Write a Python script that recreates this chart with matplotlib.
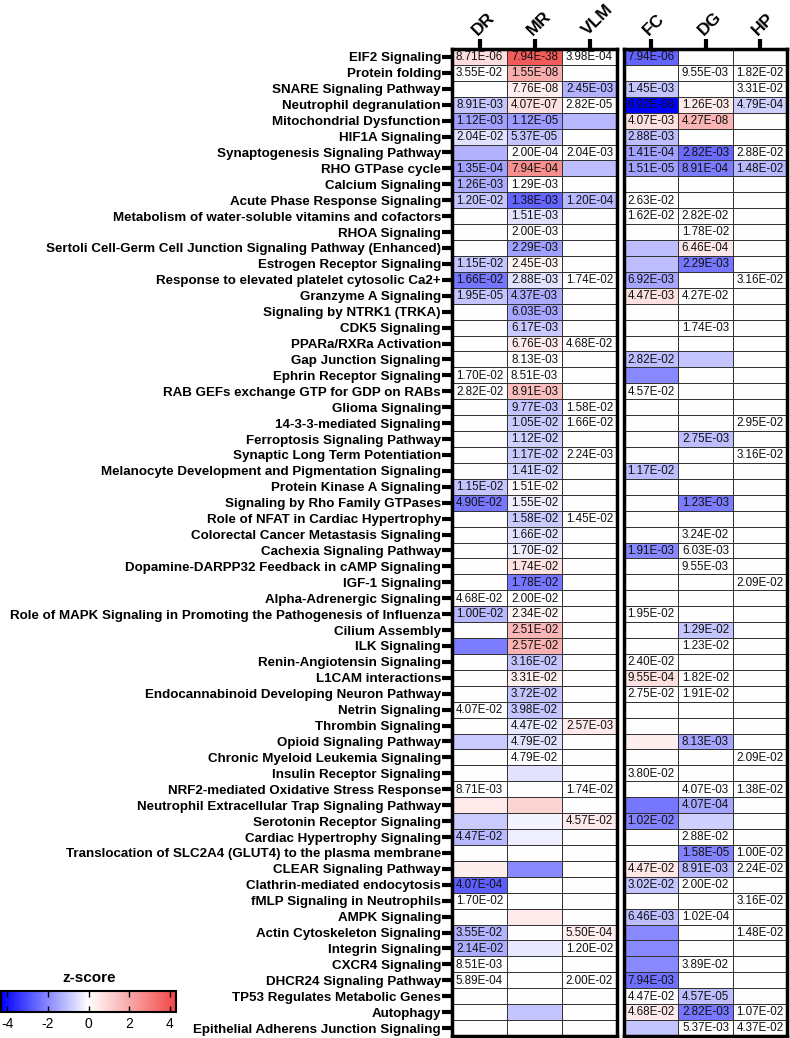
import matplotlib
matplotlib.use("Agg")
import matplotlib.pyplot as plt
import numpy as np
from matplotlib.colors import LinearSegmentedColormap

plt.rcParams["font.family"] = ["Liberation Sans", "DejaVu Sans"]
plt.rcParams["axes.unicode_minus"] = False

pathways = [
    "EIF2 Signaling", "Protein folding", "SNARE Signaling Pathway",
    "Neutrophil degranulation", "Mitochondrial Dysfunction", "HIF1A Signaling",
    "Synaptogenesis Signaling Pathway", "RHO GTPase cycle", "Calcium Signaling",
    "Acute Phase Response Signaling",
    "Metabolism of water-soluble vitamins and cofactors", "RHOA Signaling",
    "Sertoli Cell-Germ Cell Junction Signaling Pathway (Enhanced)",
    "Estrogen Receptor Signaling",
    "Response to elevated platelet cytosolic Ca2+", "Granzyme A Signaling",
    "Signaling by NTRK1 (TRKA)", "CDK5 Signaling", "PPARa/RXRa Activation",
    "Gap Junction Signaling", "Ephrin Receptor Signaling",
    "RAB GEFs exchange GTP for GDP on RABs", "Glioma Signaling",
    "14-3-3-mediated Signaling", "Ferroptosis Signaling Pathway",
    "Synaptic Long Term Potentiation",
    "Melanocyte Development and Pigmentation Signaling",
    "Protein Kinase A Signaling", "Signaling by Rho Family GTPases",
    "Role of NFAT in Cardiac Hypertrophy",
    "Colorectal Cancer Metastasis Signaling", "Cachexia Signaling Pathway",
    "Dopamine-DARPP32 Feedback in cAMP Signaling", "IGF-1 Signaling",
    "Alpha-Adrenergic Signaling",
    "Role of MAPK Signaling in Promoting the Pathogenesis of Influenza",
    "Cilium Assembly", "ILK Signaling", "Renin-Angiotensin Signaling",
    "L1CAM interactions", "Endocannabinoid Developing Neuron Pathway",
    "Netrin Signaling", "Thrombin Signaling", "Opioid Signaling Pathway",
    "Chronic Myeloid Leukemia Signaling", "Insulin Receptor Signaling",
    "NRF2-mediated Oxidative Stress Response",
    "Neutrophil Extracellular Trap Signaling Pathway",
    "Serotonin Receptor Signaling", "Cardiac Hypertrophy Signaling",
    "Translocation of SLC2A4 (GLUT4) to the plasma membrane",
    "CLEAR Signaling Pathway", "Clathrin-mediated endocytosis",
    "fMLP Signaling in Neutrophils", "AMPK Signaling",
    "Actin Cytoskeleton Signaling", "Integrin Signaling", "CXCR4 Signaling",
    "DHCR24 Signaling Pathway", "TP53 Regulates Metabolic Genes", "Autophagy",
    "Epithelial Adherens Junction Signaling",
]

left_cols = ["DR", "MR", "VLM"]
right_cols = ["FC", "DG", "HP"]

# p-values (text in cells), "" = empty
p_DR = ["8.71E-06", "3.55E-02", "", "8.91E-03", "1.12E-03", "2.04E-02", "", "1.35E-04", "1.26E-03", "1.20E-02",
        "", "", "", "1.15E-02", "1.66E-02", "1.95E-05", "", "", "", "",
        "1.70E-02", "2.82E-02", "", "", "", "", "", "1.15E-02", "4.90E-02", "",
        "", "", "", "", "4.68E-02", "1.00E-02", "", "", "", "",
        "", "4.07E-02", "", "", "", "", "8.71E-03", "", "", "4.47E-02",
        "", "", "4.07E-04", "1.70E-02", "", "3.55E-02", "2.14E-02", "8.51E-03", "5.89E-04", "",
        "", ""]
p_MR = ["7.94E-38", "1.55E-08", "7.76E-08", "4.07E-07", "1.12E-05", "5.37E-05", "2.00E-04", "7.94E-04", "1.29E-03", "1.38E-03",
        "1.51E-03", "2.00E-03", "2.29E-03", "2.45E-03", "2.88E-03", "4.37E-03", "6.03E-03", "6.17E-03", "6.76E-03", "8.13E-03",
        "8.51E-03", "8.91E-03", "9.77E-03", "1.05E-02", "1.12E-02", "1.17E-02", "1.41E-02", "1.51E-02", "1.55E-02", "1.58E-02",
        "1.66E-02", "1.70E-02", "1.74E-02", "1.78E-02", "2.00E-02", "2.34E-02", "2.51E-02", "2.57E-02", "3.16E-02", "3.31E-02",
        "3.72E-02", "3.98E-02", "4.47E-02", "4.79E-02", "4.79E-02", "", "", "", "", "",
        "", "", "", "", "", "", "", "", "", "",
        "", ""]
p_VLM = ["3.98E-04", "", "2.45E-03", "2.82E-05", "", "", "2.04E-03", "", "", "1.20E-04",
         "", "", "", "", "1.74E-02", "", "", "", "4.68E-02", "",
         "", "", "1.58E-02", "1.66E-02", "", "2.24E-03", "", "", "", "1.45E-02",
         "", "", "", "", "", "", "", "", "", "",
         "", "", "2.57E-03", "", "", "", "1.74E-02", "", "4.57E-02", "",
         "", "", "", "", "", "5.50E-04", "1.20E-02", "", "2.00E-02", "",
         "", ""]
p_FC = ["7.94E-06", "", "1.45E-03", "6.92E-08", "4.07E-03", "2.88E-03", "1.41E-04", "1.51E-05", "", "2.63E-02",
        "1.62E-02", "", "", "", "6.92E-03", "4.47E-03", "", "", "", "2.82E-02",
        "", "4.57E-02", "", "", "", "", "1.17E-02", "", "", "",
        "", "1.91E-03", "", "", "", "1.95E-02", "", "", "2.40E-02", "9.55E-04",
        "2.75E-02", "", "", "", "", "3.80E-02", "", "", "1.02E-02", "",
        "", "4.47E-02", "3.02E-02", "", "6.46E-03", "", "", "", "7.94E-03", "4.47E-02",
        "4.68E-02", ""]
p_DG = ["", "9.55E-03", "", "1.26E-03", "4.27E-08", "", "2.82E-03", "8.91E-04", "", "",
        "2.82E-02", "1.78E-02", "6.46E-04", "2.29E-03", "", "4.27E-02", "", "1.74E-03", "", "",
        "", "", "", "", "2.75E-03", "", "", "", "1.23E-03", "",
        "3.24E-02", "6.03E-03", "9.55E-03", "", "", "", "1.29E-02", "1.23E-02", "", "1.82E-02",
        "1.91E-02", "", "", "8.13E-03", "", "", "4.07E-03", "4.07E-04", "", "2.88E-02",
        "1.58E-05", "8.91E-03", "2.00E-02", "", "1.02E-04", "", "", "3.89E-02", "", "4.57E-05",
        "2.82E-03", "5.37E-03"]
p_HP = ["", "1.82E-02", "3.31E-02", "4.79E-04", "", "", "2.88E-02", "1.48E-02", "", "",
        "", "", "", "", "3.16E-02", "", "", "", "", "",
        "", "", "", "2.95E-02", "", "3.16E-02", "", "", "", "",
        "", "", "", "2.09E-02", "", "", "", "", "", "",
        "", "", "", "", "2.09E-02", "", "1.38E-02", "", "", "",
        "1.00E-02", "2.24E-02", "", "3.16E-02", "", "1.48E-02", "", "", "", "",
        "1.07E-02", "4.37E-02"]

# z-scores (cell colour), 0 = white
z_DR = [0.8, 0, 0, -1.0, -1.6, -0.5, -1.3, -1.6, -1.4, -1.0,
        0, 0, 0, -1.0, -2.3, -1.0, 0, 0, 0, 0,
        0, 0, 0, 0, 0, 0, 0, -1.0, -2.3, 0,
        0, 0, 0, 0, 0, -1.2, 0, -2.2, 0, 0,
        0, 0, 0, -0.9, 0, 0, 0, 0.5, -0.9, -1.2,
        0, 0.4, -2.7, 0, 0, -1.3, -1.4, 0, 0, 0,
        0, 0]
z_MR = [3.8, 1.9, 0.4, 0.7, -1.7, -1.0, 0, 2.6, 0, -2.6,
        -0.5, 0, -1.6, 0.3, -0.5, -1.4, -1.5, -0.9, 0.5, 0,
        0, 1.5, -1.0, -0.9, -0.8, -0.9, -0.8, 0.2, -0.3, -0.9,
        -0.5, -0.3, 0.7, -2.3, 0, 0.3, 1.7, 1.8, -1.0, 0.4,
        -1.0, -1.0, -0.4, -0.5, 0, -0.5, 0, 1.0, -0.2, -0.3,
        0, -2.0, 0, 0, 0.5, 0, -0.4, 0, 0, 0,
        -1.0, 0]
z_VLM = [0, 0, -1.3, 0, -1.2, 0, 0, -1.1, 0, -1.2,
         0, 0, 0, 0, 0, 0, 0, 0, 0, 0,
         0, 0, 0, 0, 0, 0, 0, 0, 0, 0,
         0, 0, 0, 0, 0, 0, 0, 0, 0, 0,
         0, 0, 0.5, 0, 0, 0, 0, 0, 0.5, 0,
         0, 0, 0, 0, 0, 0.4, 0, 0, 0, 0,
         0, 0]
z_FC = [-2.6, 0, -1.0, -4.3, 0.7, -1.1, -1.6, -1.6, 0, 0,
        0, 0, -1.1, -1.1, -1.5, 0.7, 0, 0, 0, -1.1,
        -2.0, 0, 0, 0, 0, 0, -1.1, 0, 0, 0,
        0, -2.0, 0, 0, 0, 0, 0, 0, 0, 0.7,
        0, 0, 0, 0.4, 0, 0, 0, -2.3, -2.1, 0,
        0, 0.6, -1.0, 0, -1.1, -2.0, -2.0, -2.0, -2.4, 0,
        0.5, -1.0]
z_DG = [0, 0, 0, 0.5, 1.7, 0, -2.5, -2.2, 0, 0,
        0, 0, 0.6, -2.3, 0, 0, 0, 0, 0, -1.0,
        0, 0, 0, 0, -1.1, 0, 0, 0, -2.2, 0,
        0, 0, 0, 0, 0, 0, -1.0, 0, 0, 0,
        0, 0, 0, -1.5, 0, 0, 0, -1.5, -0.8, 0,
        -2.1, -1.2, 0, 0, 0, 0, 0, 0, 0, -1.1,
        -2.3, 0]
z_HP = [0, 0, 0, -0.8, 0, 0, 0, -1.2, 0, 0,
        0, 0, 0, 0, 0, 0, 0, 0, 0, 0,
        0, 0, 0, 0, 0, 0, 0, 0, 0, 0,
        0, 0, 0, 0, 0, 0, 0, 0, 0, 0,
        0, 0, 0, 0, 0, 0, 0, 0, 0, 0,
        0, 0, 0, 0, 0, 0, 0, 0, 0, 0,
        0, 0]

cmap = LinearSegmentedColormap.from_list("zs", ["#0000ff", "#ffffff", "#f24646"])
vmin, vmax = -4.3, 4.3
n = len(pathways)

fig = plt.figure(figsize=(7.9, 10.38), dpi=100)
W, H = 790, 1038
ax1 = fig.add_axes([452 / W, 2 / H, 165 / W, 987 / H])
ax2 = fig.add_axes([624 / W, 2 / H, 163 / W, 987 / H])

panels = [
    (ax1, left_cols, [p_DR, p_MR, p_VLM], [z_DR, z_MR, z_VLM]),
    (ax2, right_cols, [p_FC, p_DG, p_HP], [z_FC, z_DG, z_HP]),
]
for ax, cols, pv, zv in panels:
    Z = np.array(zv).T
    mesh = ax.pcolormesh(np.arange(4), np.arange(n + 1), Z, cmap=cmap,
                         vmin=vmin, vmax=vmax, edgecolors="#333333", linewidth=0.6)
    for j, col in enumerate(pv):
        for i, txt in enumerate(col):
            if txt:
                ax.text(j + 0.5, i + 0.52, txt, ha="center", va="center",
                        fontsize=8.4, color="#111111")
    ax.set_xlim(0, 3)
    ax.set_ylim(n, 0)
    for s in ax.spines.values():
        s.set_linewidth(2.5)
    ax.xaxis.tick_top()
    ax.set_xticks(np.arange(3) + 0.5)
    ax.set_xticklabels(cols, rotation=45, ha="left", va="bottom",
                       rotation_mode="anchor", fontsize=12.5, fontweight="bold")
    ax.tick_params(axis="x", length=7, width=3, pad=1)
    ax.set_yticks(np.arange(n) + 0.5)
    ax.tick_params(axis="y", length=7, width=3, pad=1)

ax1.set_yticklabels(pathways, fontsize=9.6, fontweight="bold")
ax2.set_yticks([])

cax = fig.add_axes([1 / W, 1 - 1012 / H, 175 / W, 21 / H])
cb = fig.colorbar(mesh, cax=cax, orientation="horizontal", ticks=[-4, -2, 0, 2, 4])
cb.outline.set_linewidth(1.5)
cax.tick_params(direction="in", top=True, bottom=True, length=4, width=1,
                labelsize=10)
fig.text(89 / W, 1 - 978 / H, "z-score", ha="center", va="center",
         fontsize=11, fontweight="bold")

fig.savefig("out.png", dpi=100)
